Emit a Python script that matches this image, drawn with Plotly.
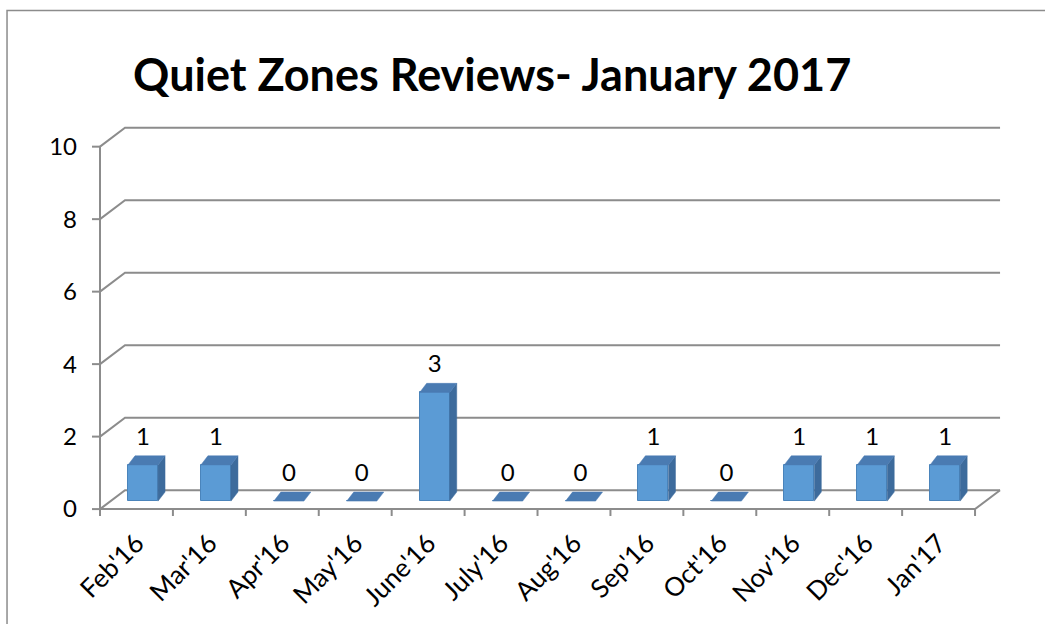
import plotly.graph_objects as go

# ---- data ----
categories = ["Feb'16", "Mar'16", "Apr'16", "May'16", "June'16", "July'16",
              "Aug'16", "Sep'16", "Oct'16", "Nov'16", "Dec'16", "Jan'17"]
values = [1, 1, 0, 0, 3, 0, 0, 1, 0, 1, 1, 1]
y_ticks = [0, 2, 4, 6, 8, 10]
title_text = "Quiet Zones Reviews- January 2017"

# ---- 3D styling constants (in axis units) ----
WDX, WDY = 0.343, 0.52      # wall depth
H = 0.206                   # half bar width
FX, FY = 0.09, 0.22         # bar front-face depth offset
BX, BY = 0.186, 0.47        # bar back-face depth offset
LBL = 0.72                  # label offset above front top

n = len(categories)
x_lo, x_hi = -0.5, n - 0.5
y_top = y_ticks[-1]

GRID = "#8c8c8c"
FRONT = "#5b9bd5"
SIDE = "#3d6b9c"
TOP = "#4a7bb2"
FONT = "Lato, sans-serif"

fig = go.Figure()

# front faces
fig.add_trace(go.Bar(
    x=[i + FX for i in range(n)], y=values, base=FY, width=2 * H,
    marker=dict(color=FRONT, line=dict(color="#4a84bb", width=1)),
    hoverinfo="skip", showlegend=False))

# side faces
sx, sy = [], []
for i, v in enumerate(values):
    if v > 0:
        sx += [i + FX + H, i + FX + H, i + BX + H, i + BX + H, i + FX + H, None]
        sy += [FY, v + FY, v + BY, BY, FY, None]
fig.add_trace(go.Scatter(x=sx, y=sy, fill="toself", fillcolor=SIDE, mode="lines",
                         line=dict(color=SIDE, width=0.5), hoverinfo="skip",
                         showlegend=False))

# top faces
tx, ty = [], []
for i, v in enumerate(values):
    tx += [i + FX - H, i + FX + H, i + BX + H, i + BX - H, i + FX - H, None]
    ty += [v + FY, v + FY, v + BY, v + BY, v + FY, None]
fig.add_trace(go.Scatter(x=tx, y=ty, fill="toself", fillcolor=TOP, mode="lines",
                         line=dict(color=TOP, width=0.5), hoverinfo="skip",
                         showlegend=False))

# data labels
fig.add_trace(go.Scatter(
    x=[i + FX for i in range(n)], y=[v + FY + LBL for v in values],
    text=[str(v) for v in values], mode="text", textposition="middle center",
    textfont=dict(family=FONT, size=24, color="#000000"),
    hoverinfo="skip", showlegend=False, cliponaxis=False))

shapes = []
# back wall gridlines with left-wall diagonals
for t in y_ticks:
    shapes.append(dict(type="path", layer="below", xref="x", yref="y",
                       path=f"M {x_lo},{t} L {x_lo + WDX},{t + WDY} L {x_hi + WDX},{t + WDY}",
                       line=dict(color=GRID, width=2)))
# left vertical axis line
shapes.append(dict(type="line", layer="below", xref="x", yref="y",
                   x0=x_lo, y0=0, x1=x_lo, y1=y_top, line=dict(color=GRID, width=2)))
# front floor edge + right slant
shapes.append(dict(type="path", layer="below", xref="x", yref="y",
                   path=f"M {x_lo},0 L {x_hi},0 L {x_hi + WDX},{WDY}",
                   line=dict(color=GRID, width=2)))
# x tick marks at category boundaries
for k in range(n + 1):
    b = x_lo + k
    shapes.append(dict(type="line", layer="below", xref="x", yref="y",
                       x0=b, y0=0, x1=b, y1=-0.19, line=dict(color=GRID, width=2)))
# y tick marks
for t in y_ticks:
    shapes.append(dict(type="line", layer="below", xref="x", yref="y",
                       x0=x_lo - 0.11, y0=t, x1=x_lo, y1=t, line=dict(color=GRID, width=2)))
# chart outer border
shapes.append(dict(type="rect", xref="paper", yref="paper",
                   x0=-0.0897, y0=-0.6, x1=1.2, y1=1.2118,
                   line=dict(color="#8c8c8c", width=1.5), fillcolor="rgba(0,0,0,0)"))

fig.update_layout(
    width=1045, height=624,
    margin=dict(l=90, r=30, t=100, b=99),
    paper_bgcolor="white", plot_bgcolor="white",
    shapes=shapes,
    title=dict(text=f"<b>{title_text}</b>", x=0.471, xanchor="center",
               y=1 - 75 / 624, yanchor="middle",
               font=dict(family=FONT, size=45, color="#000000")),
    xaxis=dict(range=[x_lo - 10 / 72.92, x_lo + 915 / 72.92], tickmode="array",
               tickvals=list(range(n)), ticktext=categories, tickangle=-45,
               showgrid=False, zeroline=False, showline=False, ticks="",
               tickfont=dict(family=FONT, size=26, color="#000000")),
    yaxis=dict(range=[-13 / 36.5, 412 / 36.5], tickmode="array",
               tickvals=y_ticks, ticktext=[str(t) for t in y_ticks],
               showgrid=False, zeroline=False, showline=False, ticks="",
               ticklabelstandoff=12,
               tickfont=dict(family=FONT, size=24, color="#000000")),
    bargap=0,
)

fig.write_html("out.html", config={"displayModeBar": False},
               post_script="document.body.style.margin='0';document.body.style.overflow='hidden';")
